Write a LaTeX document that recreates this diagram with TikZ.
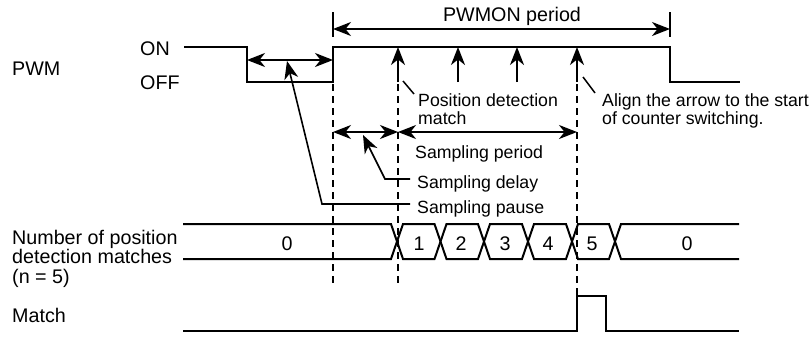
\documentclass[tikz,border=0pt]{standalone}
\usepackage{fontspec}
\setmainfont{Liberation Sans}
\usetikzlibrary{arrows.meta}
\begin{document}
\begin{tikzpicture}[x=1pt,y=-1pt,
  sig/.style={line width=2pt,line join=miter},
  arr/.style={line width=1.7pt,-{Stealth[length=18pt,width=14pt,inset=5.5pt]}},
  darr/.style={line width=1.7pt,{Stealth[length=18pt,width=14pt,inset=5.5pt]}-{Stealth[length=18pt,width=14pt,inset=5.5pt]}},
  parr/.style={line width=1.6pt,-{Stealth[length=18pt,width=14pt,inset=5.5pt]}},
  guide/.style={line width=1.8pt,dash pattern=on 7pt off 5pt},
  lead/.style={line width=1.5pt},
  tick/.style={line width=1.5pt},
  lbl/.style={font=\fontsize{19.7}{21}\selectfont,inner sep=0pt,anchor=base west},
  clbl/.style={font=\fontsize{19.7}{21}\selectfont,inner sep=0pt,anchor=base},
  note/.style={font=\fontsize{17.7}{19}\selectfont,inner sep=0pt,anchor=base west},
]
\useasboundingbox (0,0) rectangle (810,338);

% ---------- coordinates ----------
\coordinate (pA) at (184,47);
\coordinate (pB) at (247,47);
\coordinate (pC) at (247,82);
\coordinate (pD) at (333,82);
\coordinate (pE) at (333,47);
\coordinate (pF) at (670,47);
\coordinate (pG) at (670,82);
\coordinate (pH) at (740,82);

% ---------- labels ----------
\node[lbl] (pwm) at (12,75) {PWM};
\node[lbl] (on) at (140,55) {ON};
\node[lbl] (off) at (140,89) {OFF};
\node[lbl] (num1) at (12,244) {Number of position};
\node[lbl] (num2) at (12,263.5) {detection matches};
\node[lbl] (num3) at (12,283) {(n = 5)};
\node[lbl] (match) at (12,322) {Match};

% ---------- PWM waveform ----------
\draw[sig] (pA) -- (pB) -- (pC) -- (pD) -- (pE) -- (pF) -- (pG) -- (pH);

% PWMON period
\coordinate (t1a) at (333,12); \coordinate (t1b) at (333,37);
\coordinate (t2a) at (670,12); \coordinate (t2b) at (670,37);
\draw[tick] (t1a) -- (t1b);
\draw[tick] (t2a) -- (t2b);
\coordinate (pw1) at (333,29); \coordinate (pw2) at (670,29);
\draw[darr] (pw1) -- (pw2);
\node[clbl] (pwmon) at (512,21) {PWMON period};

% OFF-time double arrow (sampling pause)
\coordinate (sp1) at (247,60); \coordinate (sp2) at (333,60);
\draw[darr] (sp1) -- (sp2);

% position detection arrows
\coordinate (u1b) at (398,82); \coordinate (u1t) at (398,47);
\coordinate (u2b) at (458,82); \coordinate (u2t) at (458,47);
\coordinate (u3b) at (517,82); \coordinate (u3t) at (517,47);
\coordinate (u4b) at (577,82); \coordinate (u4t) at (577,47);
\draw[arr] (u1b) -- (u1t);
\draw[arr] (u2b) -- (u2t);
\draw[arr] (u3b) -- (u3t);
\draw[arr] (u4b) -- (u4t);

% dashed guides
\coordinate (g1a) at (333,84); \coordinate (g1b) at (333,285);
\coordinate (g2a) at (398,84); \coordinate (g2b) at (398,285);
\coordinate (g3a) at (577,84); \coordinate (g3b) at (577,296);
\draw[guide] (g1a) -- (g1b);
\draw[guide] (g2a) -- (g2b);
\draw[guide] (g3a) -- (g3b);

% annotations
\node[note] (pd1) at (418,106) {Position detection};
\node[note] (pd2) at (418,124) {match};
\coordinate (pdl1) at (403,81); \coordinate (pdl2) at (414,94);
\draw[lead] (pdl1) -- (pdl2);
\node[note] (al1) at (602,106) {Align the arrow to the start};
\node[note] (al2) at (602,124) {of counter switching.};
\coordinate (all1) at (583,77); \coordinate (all2) at (595,93);
\draw[lead] (all1) -- (all2);

% sampling delay / period
\coordinate (sd1) at (333,132); \coordinate (sd2) at (398,132);
\coordinate (spd2) at (577,132);
\draw[darr] (sd1) -- (sd2);
\draw[darr] (sd2) -- (spd2);
\node[note] (sper) at (415,158) {Sampling period};

\node[note] (sdel) at (417,188) {Sampling delay};
\coordinate (sdk) at (385,179); \coordinate (sde) at (410,179); \coordinate (sdt) at (363,135);
\draw[parr] (sde) -- (sdk) -- (sdt);

\node[note] (spau) at (417,213) {Sampling pause};
\coordinate (spk) at (322,204); \coordinate (spe) at (410,204); \coordinate (spt) at (287,61);
\draw[parr] (spe) -- (spk) -- (spt);

% ---------- bus ----------
\draw[sig] (183,224) -- (391,224) -- (403,259) -- (434.5,259) -- (446.5,224) -- (478,224) -- (490,259) -- (522,259) -- (534,224) -- (566,224) -- (578,259) -- (609,259) -- (621,224) -- (739,224);
\draw[sig] (183,259) -- (391,259) -- (403,224) -- (434.5,224) -- (446.5,259) -- (478,259) -- (490,224) -- (522,224) -- (534,259) -- (566,259) -- (578,224) -- (609,224) -- (621,259) -- (739,259);
\node[clbl] (b0) at (287,250) {0};
\node[clbl] (b1) at (419,250) {1};
\node[clbl] (b2) at (461,250) {2};
\node[clbl] (b3) at (505,250) {3};
\node[clbl] (b4) at (548,250) {4};
\node[clbl] (b5) at (592,250) {5};
\node[clbl] (b6) at (687,250) {0};

% ---------- match ----------
\draw[sig] (183,331) -- (577,331) -- (577,296) -- (606,296) -- (606,331) -- (739,331);
\end{tikzpicture}
\end{document}
